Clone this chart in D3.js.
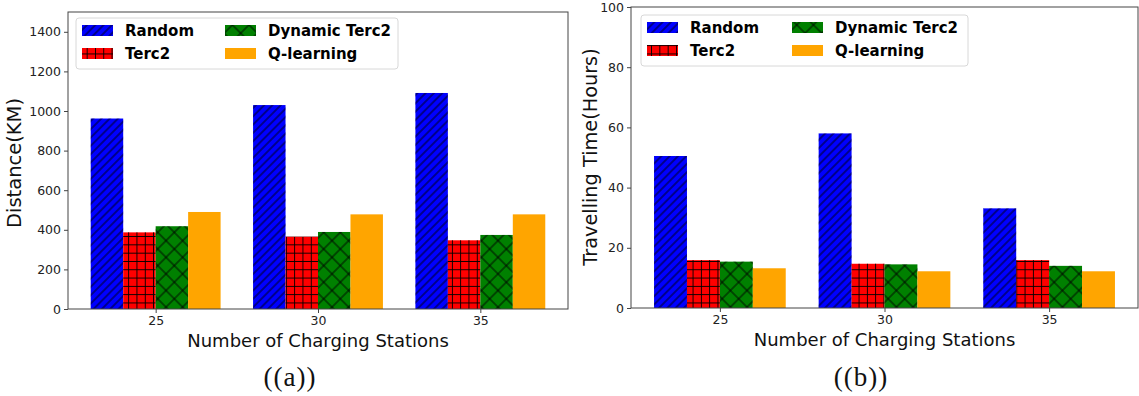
<!DOCTYPE html>
<html>
<head>
<meta charset="utf-8">
<script src="https://cdn.jsdelivr.net/npm/d3@7"></script>
<style>
  body { margin: 0; background: #fff; }
  svg { display: block; font-family: "DejaVu Sans", sans-serif; }
</style>
</head>
<body>
<svg id="chart" width="1139" height="396"></svg>
<script>
// chart data
const stations = ["25", "30", "35"];
const methods = ["Random", "Terc2", "Dynamic Terc2", "Q-learning"];
const distanceKm = {
  "Random":        [962, 1030, 1091],
  "Terc2":         [387, 365, 347],
  "Dynamic Terc2": [418, 389, 374],
  "Q-learning":    [490, 478, 478]
};
const travelHours = {
  "Random":        [50.5, 58.0, 33.1],
  "Terc2":         [15.9, 14.7, 15.9],
  "Dynamic Terc2": [15.4, 14.5, 14.0],
  "Q-learning":    [13.2, 12.2, 12.2]
};
const distanceTicks = [0, 200, 400, 600, 800, 1000, 1200, 1400];
const hoursTicks = [0, 20, 40, 60, 80, 100];

const colors = { "Random": "blue", "Terc2": "red", "Dynamic Terc2": "green", "Q-learning": "orange" };
const hatchOf = { "Random": "hatch-diag", "Terc2": "hatch-plus", "Dynamic Terc2": "hatch-x", "Q-learning": null };

const svg = d3.select("#chart");
const defs = svg.append("defs");

// hatch patterns, in page space like matplotlib
function makePattern(id, w, h, d, rot) {
  const p = defs.append("pattern")
    .attr("id", id)
    .attr("patternUnits", "userSpaceOnUse")
    .attr("width", w).attr("height", h);
  if (rot) p.attr("patternTransform", `rotate(${rot})`);
  p.append("path").attr("d", d)
    .attr("stroke", "#000").attr("stroke-width", 0.9).attr("fill", "none");
}
const step = 8.3;                 // '+' and '//' spacing
const ds = step / Math.SQRT2;
const xs = 2 * step / Math.SQRT2; // 'x' is half as dense
makePattern("hatch-diag", ds, ds, `M${ds / 2},0 V${ds}`, 45);
makePattern("hatch-plus", step, step, `M${step / 2},0 V${step} M0,${step / 2} H${step}`);
makePattern("hatch-x", xs, xs, `M${xs / 2},0 V${xs} M0,${xs / 2} H${xs}`, 45);

function drawPanel(opt) {
  const g = svg.append("g");
  const x = d3.scaleLinear().domain([-0.54, 2.54]).range([opt.left, opt.right]);
  const y = d3.scaleLinear().domain(opt.domain).range([opt.bottom, opt.top]);
  const barW = 0.2;

  methods.forEach((m, i) => {
    const off = -0.3 + i * 0.2;
    const layers = hatchOf[m] ? [colors[m], `url(#${hatchOf[m]})`] : [colors[m]];
    layers.forEach(fill => {
      g.append("g").selectAll("rect")
        .data(opt.data[m])
        .join("rect")
        .attr("x", (d, j) => x(j + off - barW / 2))
        .attr("width", x(barW) - x(0))
        .attr("y", d => y(d))
        .attr("height", d => y(0) - y(d))
        .attr("fill", fill);
    });
  });

  // axes
  const xAxis = d3.axisBottom(x).tickValues([0, 1, 2]).tickFormat(i => stations[i]).tickSize(4).tickPadding(3);
  const yAxis = d3.axisLeft(y).tickValues(opt.ticks).tickFormat(d3.format("d")).tickSize(4).tickPadding(3);
  const ax = g.append("g").attr("transform", `translate(0,${opt.bottom})`).call(xAxis);
  const ay = g.append("g").attr("transform", `translate(${opt.left},0)`).call(yAxis);
  [ax, ay].forEach(a => {
    a.select(".domain").remove();
    a.selectAll("text").attr("font-size", 12.5).attr("fill", "#222").attr("font-family", "DejaVu Sans");
    a.selectAll("line").attr("stroke", "#444");
  });

  g.append("rect")
    .attr("x", opt.left).attr("y", opt.top)
    .attr("width", opt.right - opt.left).attr("height", opt.bottom - opt.top)
    .attr("fill", "none").attr("stroke", "#444").attr("stroke-width", 1);

  // labels
  g.append("text")
    .attr("transform", `translate(${opt.ylabelX},${opt.ylabelY}) rotate(-90)`)
    .attr("text-anchor", "middle").attr("dominant-baseline", "central")
    .attr("font-size", opt.ylabelSize).attr("fill", "#111")
    .text(opt.ylabel);
  g.append("text")
    .attr("x", (opt.left + opt.right) / 2).attr("y", opt.bottom + 38)
    .attr("text-anchor", "middle")
    .attr("font-size", 18).attr("fill", "#111")
    .text("Number of Charging Stations");
  g.append("text")
    .attr("x", opt.capX).attr("y", 386)
    .attr("text-anchor", "middle")
    .attr("font-family", "Liberation Serif, DejaVu Serif, serif")
    .attr("font-size", 27).attr("letter-spacing", 1).attr("fill", "#111")
    .text(opt.caption);

  // legend
  const L = opt.legend;
  g.append("rect")
    .attr("x", L.x).attr("y", L.y).attr("width", L.w).attr("height", L.h)
    .attr("rx", 3).attr("fill", "#fff").attr("fill-opacity", 0.8)
    .attr("stroke", "#d8d8d8");
  methods.forEach((m, i) => {
    const col = i < 2 ? 0 : 1, row = i % 2;
    const px = L.x + 6 + col * L.colGap;
    const py = L.y + 7 + row * 23;
    g.append("rect").attr("x", px).attr("y", py).attr("width", 31).attr("height", 11)
      .attr("fill", colors[m]);
    if (hatchOf[m]) {
      g.append("rect").attr("x", px).attr("y", py).attr("width", 31).attr("height", 11)
        .attr("fill", `url(#${hatchOf[m]})`);
    }
    g.append("text")
      .attr("x", px + 43).attr("y", py + 5.5)
      .attr("dominant-baseline", "central")
      .attr("font-size", 15).attr("font-weight", "bold").attr("fill", "#000")
      .text(m);
  });
}

drawPanel({
  left: 68, right: 568, top: 12, bottom: 309,
  domain: [0, 1500], ticks: distanceTicks, data: distanceKm,
  ylabel: "Distance(KM)", ylabelX: 14, ylabelY: 163, ylabelSize: 19.5,
  caption: "((a))", capX: 290,
  legend: { x: 76, y: 18, w: 322, h: 51, colGap: 143 }
});
drawPanel({
  left: 631, right: 1138, top: 7, bottom: 308,
  domain: [0, 100], ticks: hoursTicks, data: travelHours,
  ylabel: "Travelling Time(Hours)", ylabelX: 590, ylabelY: 157, ylabelSize: 19.3,
  caption: "((b))", capX: 861,
  legend: { x: 641, y: 15, w: 327, h: 51, colGap: 145 }
});
</script>
</body>
</html>
